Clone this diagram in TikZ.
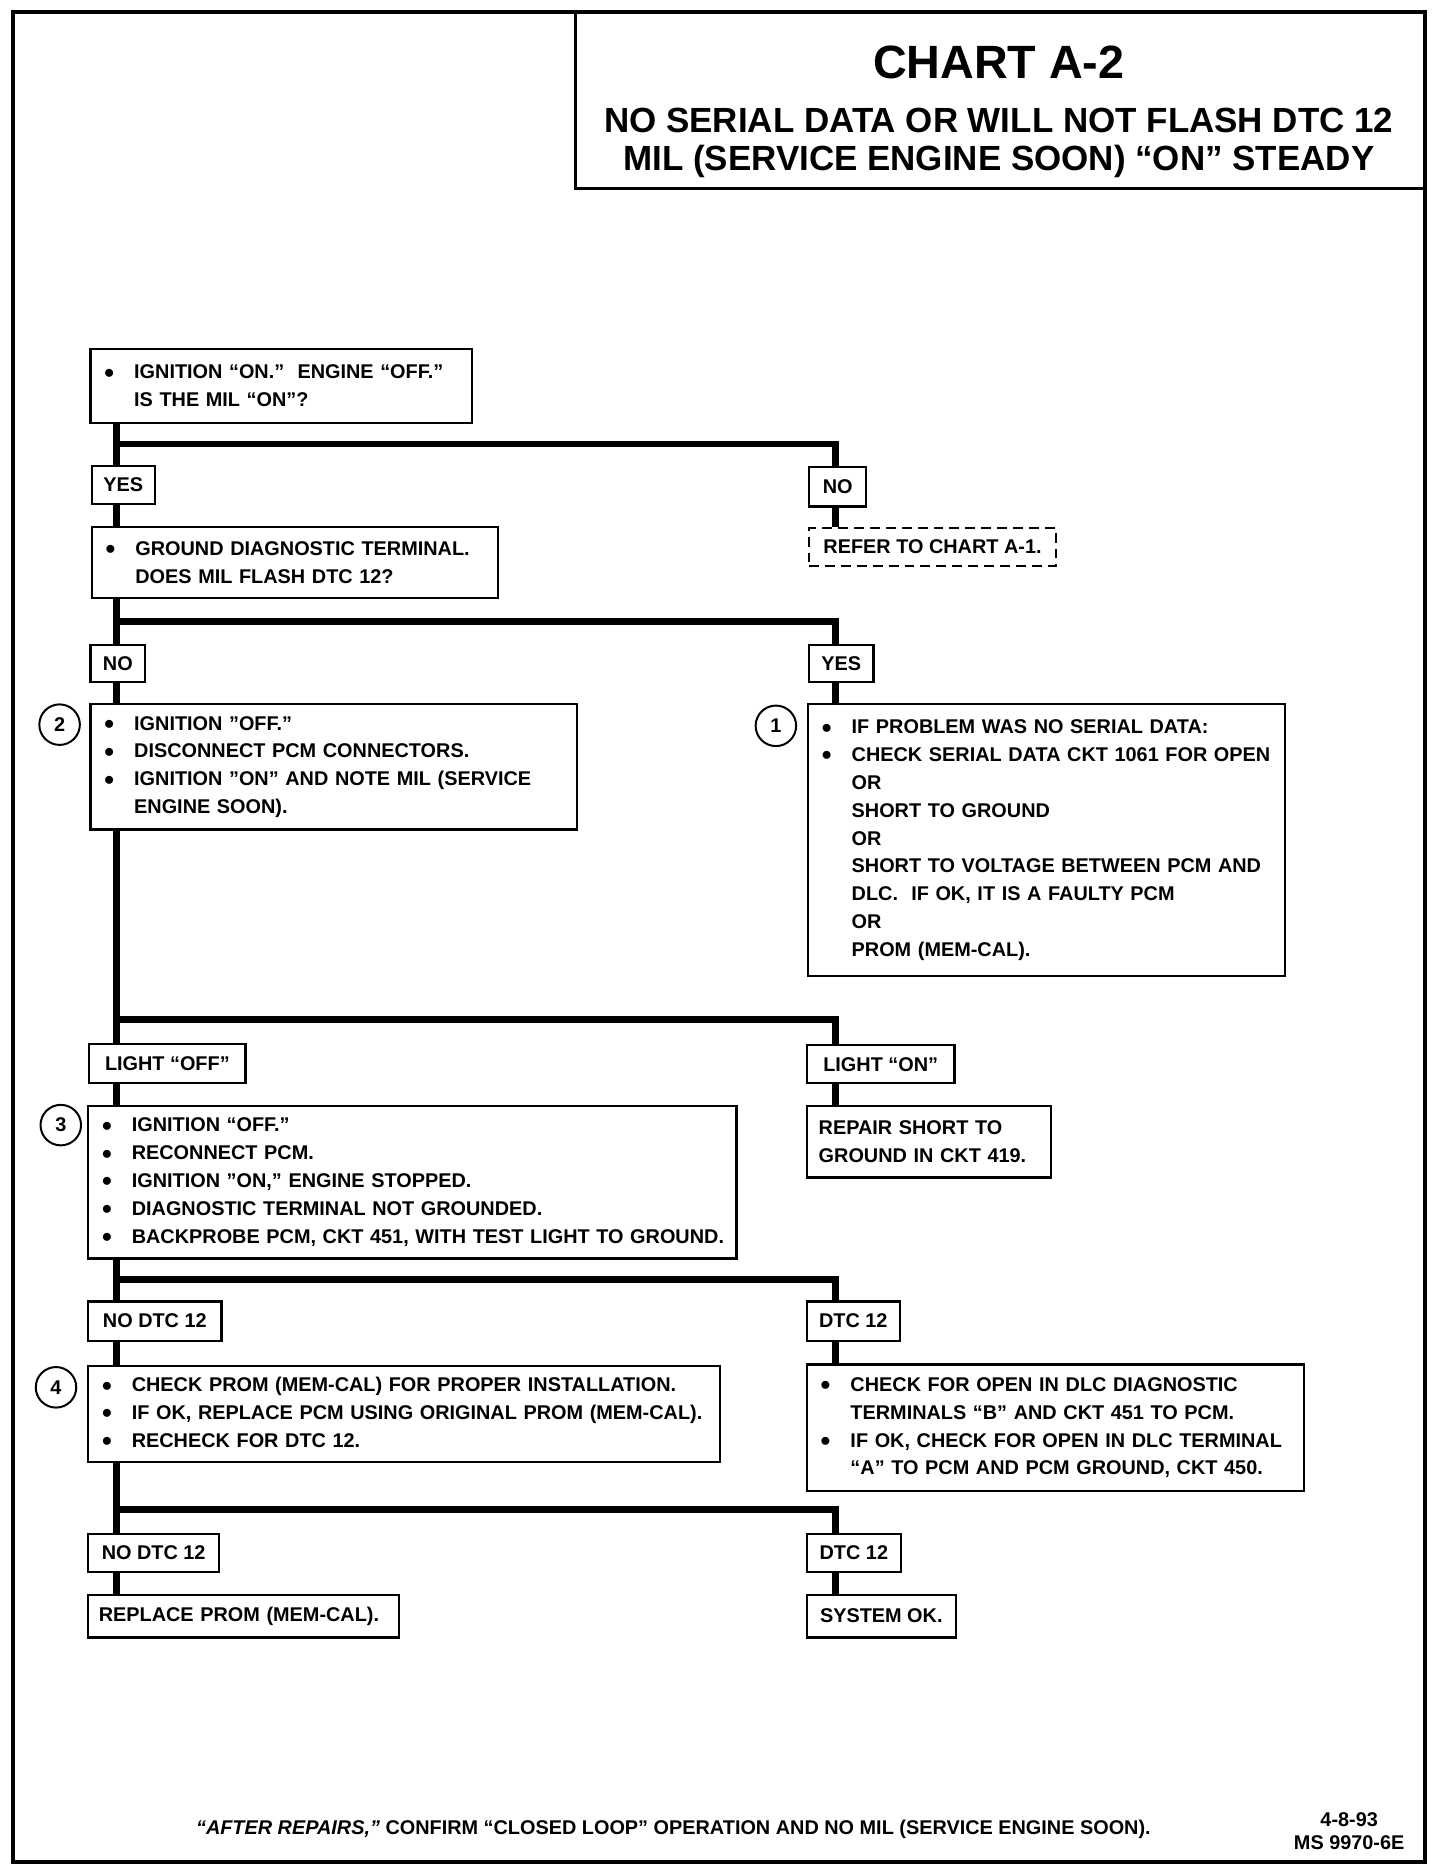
\documentclass[tikz,border=0pt]{standalone}
\usepackage{fontspec}
\setmainfont{Liberation Sans}
\usetikzlibrary{positioning,calc}

\newcommand{\bdot}{\raisebox{-1.7pt}{\fontsize{14}{14}\selectfont\textbullet}}
\newcommand{\bitem}[1]{\mbox{\makebox[15pt][l]{\bdot}#1}}
\newcommand{\bcont}[1]{\mbox{\hspace*{15pt}#1}}

\begin{document}
\begin{tikzpicture}[
        x=0.6pt, y=-0.6pt,
        every node/.style={font=\fontsize{10}{14}\selectfont\bfseries},
        box/.style={draw, line width=1.1pt, anchor=north west, inner xsep=7pt, inner ysep=0pt, align=left},
        tag/.style={draw, line width=1.1pt, anchor=north west, inner sep=0pt, align=center},
        num/.style={draw, circle, line width=1pt, minimum size=20.4pt, inner sep=0pt},
        flow/.style={line width=3.4pt, line cap=butt, line join=miter},
    ]
        \useasboundingbox (0,0) rectangle (1208,1569);
        \draw[line width=2pt] (11,10) rectangle (1196,1562);
        \draw[line width=1.3pt] (483,10) -- (483,158) -- (1196,158);
        \node[font=\fontsize{23.5}{28}\selectfont\bfseries] (title) at (838,52) {CHART A-2};
        \node[align=center, font=\fontsize{17.6}{19.4}\selectfont\bfseries] (subtitle) at (838,120)
            {NO SERIAL DATA OR WILL NOT FLASH DTC 12\\MIL (SERVICE ENGINE SOON) “ON” STEADY};

        \coordinate (trunk) at (98,0);
        \coordinate (rcol) at (701,0);

        \node[box, minimum width=192pt, minimum height=37.2pt, text width=178pt] (ignon) at (75,292)
            {\bitem{IGNITION “ON.” \ ENGINE “OFF.”}\\\bcont{IS THE MIL “ON”?}};
        \node[tag, minimum width=31.8pt, minimum height=19.2pt] (yes1) at (76,390) {YES};
        \node[tag, minimum width=28.8pt, minimum height=19.8pt] (no1) at (678,391) {NO};
        \node[tag, dash pattern=on 5pt off 3pt, minimum width=124.2pt, minimum height=19.2pt] (refer) at (678,442) {REFER TO CHART A-1.};

        \node[box, minimum width=204.6pt, minimum height=36pt, text width=190.6pt] (ground) at (76,441)
            {\bitem{GROUND DIAGNOSTIC TERMINAL.}\\\bcont{DOES MIL FLASH DTC 12?}};
        \node[tag, minimum width=27.6pt, minimum height=18.6pt] (no2) at (75,540) {NO};
        \node[tag, minimum width=32.4pt, minimum height=18.6pt] (yes2) at (678,540) {YES};

        \node[box, minimum width=244.8pt, minimum height=63pt, text width=230.8pt] (step2) at (75,590)
            {\bitem{IGNITION "OFF."}\\\bitem{DISCONNECT PCM CONNECTORS.}\\\bitem{IGNITION "ON" AND NOTE MIL (SERVICE}\\\bcont{ENGINE SOON).}};
        \node[num] (c2) at (50,608) {2};

        \node[box, minimum width=240pt, minimum height=136.8pt, text width=226pt] (step1) at (677,590)
            {\bitem{IF PROBLEM WAS NO SERIAL DATA:}\\\bitem{CHECK SERIAL DATA CKT 1061 FOR OPEN}\\\bcont{OR}\\\bcont{SHORT TO GROUND}\\\bcont{OR}\\\bcont{SHORT TO VOLTAGE BETWEEN PCM AND}\\\bcont{DLC. \ IF OK, IT IS A FAULTY PCM}\\\bcont{OR}\\\bcont{PROM (MEM-CAL).}};
        \node[num] (c1) at (651,609) {1};

        \node[tag, minimum width=78.6pt, minimum height=19.8pt] (loff) at (74,875) {LIGHT “OFF”};
        \node[tag, minimum width=74.4pt, minimum height=19.2pt] (lon) at (676,876) {LIGHT “ON”};
        \node[box, inner xsep=6pt, minimum width=123pt, minimum height=36pt, text width=111pt] (repair) at (676,927)
            {REPAIR SHORT TO\\GROUND IN CKT 419.};

        \node[box, minimum width=326.4pt, minimum height=76.8pt, text width=312.4pt] (step3) at (73,927)
            {\bitem{IGNITION “OFF.”}\\\bitem{RECONNECT PCM.}\\\bitem{IGNITION "ON," ENGINE STOPPED.}\\\bitem{DIAGNOSTIC TERMINAL NOT GROUNDED.}\\\bitem{BACKPROBE PCM, CKT 451, WITH TEST LIGHT TO GROUND.}};
        \node[num] (c3) at (51,944) {3};

        \node[tag, minimum width=67.2pt, minimum height=19.8pt] (nodtc1) at (73,1091) {NO DTC 12};
        \node[tag, minimum width=46.8pt, minimum height=19.8pt] (dtc1) at (676,1091) {DTC 12};

        \node[box, minimum width=318pt, minimum height=48.6pt, text width=304pt] (step4) at (73,1145)
            {\bitem{CHECK PROM (MEM-CAL) FOR PROPER INSTALLATION.}\\\bitem{IF OK, REPLACE PCM USING ORIGINAL PROM (MEM-CAL).}\\\bitem{RECHECK FOR DTC 12.}};
        \node[num] (c4) at (47,1164) {4};
        \node[box, minimum width=250.2pt, minimum height=63.6pt, text width=236.2pt] (dlc) at (676,1144)
            {\bitem{CHECK FOR OPEN IN DLC DIAGNOSTIC}\\\bcont{TERMINALS “B” AND CKT 451 TO PCM.}\\\bitem{IF OK, CHECK FOR OPEN IN DLC TERMINAL}\\\bcont{“A” TO PCM AND PCM GROUND, CKT 450.}};

        \node[tag, minimum width=66pt, minimum height=19.2pt] (nodtc2) at (73,1286) {NO DTC 12};
        \node[tag, minimum width=47.4pt, minimum height=19.2pt] (dtc2) at (676,1286) {DTC 12};
        \node[box, inner xsep=5.4pt, minimum width=156.6pt, minimum height=21.6pt, text width=145.8pt] (replace) at (73,1337) {REPLACE PROM (MEM-CAL).};
        \node[tag, minimum width=75pt, minimum height=21.6pt] (sysok) at (676,1337) {SYSTEM OK.};

        \coordinate (br1) at (98,372.5);
        \coordinate (br2) at (98,521.5);
        \coordinate (br3) at (98,855.7);
        \coordinate (br4) at (98,1073.8);
        \coordinate (br5) at (98,1266.8);

        \draw[flow] (ignon.south -| trunk) -- (yes1.north -| trunk);
        \draw[flow] (br1) -| (no1.north -| rcol);
        \draw[flow] (yes1.south -| trunk) -- (ground.north -| trunk);
        \draw[flow] (no1.south -| rcol) -- (refer.north -| rcol);
        \draw[flow] (ground.south -| trunk) -- (no2.north -| trunk);
        \draw[flow] (br2) -| (yes2.north -| rcol);
        \draw[flow] (no2.south -| trunk) -- (step2.north -| trunk);
        \draw[flow] (yes2.south -| rcol) -- (step1.north -| rcol);
        \draw[flow] (step2.south -| trunk) -- (loff.north -| trunk);
        \draw[flow] (br3) -| (lon.north -| rcol);
        \draw[flow] (loff.south -| trunk) -- (step3.north -| trunk);
        \draw[flow] (lon.south -| rcol) -- (repair.north -| rcol);
        \draw[flow] (step3.south -| trunk) -- (nodtc1.north -| trunk);
        \draw[flow] (br4) -| (dtc1.north -| rcol);
        \draw[flow] (nodtc1.south -| trunk) -- (step4.north -| trunk);
        \draw[flow] (dtc1.south -| rcol) -- (dlc.north -| rcol);
        \draw[flow] (step4.south -| trunk) -- (nodtc2.north -| trunk);
        \draw[flow] (br5) -| (dtc2.north -| rcol);
        \draw[flow] (nodtc2.south -| trunk) -- (replace.north -| trunk);
        \draw[flow] (dtc2.south -| rcol) -- (sysok.north -| rcol);

        \node (footer) at (565,1535) {\textit{“AFTER REPAIRS,”} CONFIRM “CLOSED LOOP” OPERATION AND NO MIL (SERVICE ENGINE SOON).};
        \node (date) at (1132,1527) {4-8-93};
        \node (code) at (1132,1546) {MS 9970-6E};
    \end{tikzpicture}
\end{document}
